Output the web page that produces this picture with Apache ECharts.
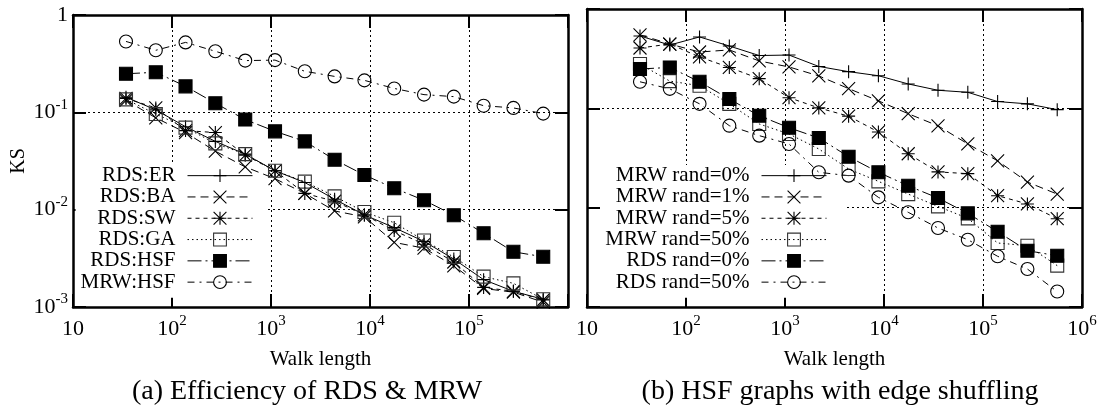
<!DOCTYPE html>
<html>
<head>
<meta charset="utf-8">
<script src="https://cdn.jsdelivr.net/npm/echarts@6/dist/echarts.min.js"></script>
<style>
  html, body { margin: 0; padding: 0; background: #fff; }
  #chart { width: 1102px; height: 414px; }
</style>
</head>
<body>
<div id="chart"></div>
<script>
// Walk lengths (doubling steps) shared by every curve
const walkLengths = [34.3, 68.6, 137, 274, 549, 1098, 2195, 4390, 8780, 17560, 35120, 70240, 140480, 280960, 561920];

// (a) RDS on different graph models, plus MRW on HSF
const rdsER  = [0.143, 0.106, 0.0712, 0.0503, 0.0372, 0.0251, 0.0190, 0.0128, 0.00883, 0.00654, 0.00472, 0.00311, 0.00191, 0.00145, 0.00120];
const rdsBA  = [0.133, 0.0877, 0.0620, 0.0399, 0.0275, 0.0208, 0.0147, 0.0097, 0.00843, 0.00461, 0.00402, 0.00265, 0.00155, 0.00142, 0.00112];
const rdsSW  = [0.139, 0.111, 0.0649, 0.0620, 0.0363, 0.0251, 0.0147, 0.0122, 0.00883, 0.0061, 0.00441, 0.0029, 0.00159, 0.00145, 0.00118];
const rdsGA  = [0.136, 0.0962, 0.0696, 0.048, 0.0372, 0.0251, 0.0194, 0.0137, 0.00947, 0.00734, 0.00483, 0.00326, 0.00205, 0.00175, 0.0012];
const rdsHSF = [0.249, 0.258, 0.185, 0.124, 0.0843, 0.0638, 0.0503, 0.0326, 0.0227, 0.0166, 0.0125, 0.00877, 0.00573, 0.00369, 0.00328];
const mrwHSF = [0.535, 0.434, 0.523, 0.424, 0.340, 0.344, 0.264, 0.234, 0.213, 0.176, 0.152, 0.145, 0.117, 0.111, 0.097];

// (b) HSF graphs with a share of edges shuffled (0% is the plain HSF graph)
const mrwRand1  = [0.55, 0.444, 0.369, 0.387, 0.300, 0.261, 0.212, 0.158, 0.119, 0.0883, 0.0667, 0.0438, 0.0296, 0.0181, 0.0137];
const mrwRand5  = [0.405, 0.444, 0.329, 0.258, 0.199, 0.128, 0.101, 0.0834, 0.0578, 0.0349, 0.0229, 0.0220, 0.0132, 0.0109, 0.00774];
const mrwRand50 = [0.279, 0.188, 0.169, 0.111, 0.0696, 0.0552, 0.039, 0.0245, 0.0184, 0.0137, 0.0103, 0.00781, 0.00441, 0.00414, 0.00261];
const rdsRand50 = [0.185, 0.157, 0.111, 0.0669, 0.0531, 0.0438, 0.0227, 0.0210, 0.0127, 0.00898, 0.00624, 0.00476, 0.00324, 0.00241, 0.00143];

// Axis texts
const xAxisTitle = 'Walk length';
const yAxisTitle = 'KS';
const captions = ['(a) Efficiency of RDS & MRW', '(b) HSF graphs with edge shuffling'];
const xRange = [10, 1e6];
const yRange = [1e-3, 1];

const FONT = 'Liberation Serif';

// Point markers drawn as stroked paths
const SYM = {
  plus:  'path://M0,5L10,5M5,0L5,10',
  cross: 'path://M0,0L10,10M10,0L0,10',
  star:  'path://M0,0L10,10M10,0L0,10M0,5L10,5M5,0L5,10',
  rect: 'rect',
  circle: 'circle'
};

// Dash patterns
const DASH = {
  solid: 'solid',
  longDash: [8, 5],
  shortDash: [4, 4],
  dotted: [1.5, 3],
  dashDot: [14, 4, 2, 4],
  shortDashDot: [7, 5, 2, 5]
};

function powLabel(v) {
  const e = Math.round(Math.log10(v));
  if (e === 0) return '1';
  if (e === 1) return '10';
  return '10{sup|' + (e < 0 ? '-' + (-e) : e) + '}';
}

const labelBase = {
  color: '#000', fontFamily: FONT, fontSize: 22, lineHeight: 30,
  rich: { sup: { color: '#000', fontFamily: FONT, fontSize: 15, lineHeight: 12, verticalAlign: 'top' } }
};

const tickStyle = { show: true, inside: true, length: 13, lineStyle: { color: '#000', width: 2 } };
const frameStyle = { show: true, onZero: false, lineStyle: { color: '#000', width: 2.5 } };
const gridLine = { show: true, showMinLine: false, showMaxLine: false, lineStyle: { color: '#000', width: 1, type: [2, 3] } };

function xMain(gi, showLastLabel) {
  return {
    type: 'log', logBase: 10, gridIndex: gi, position: 'bottom', min: xRange[0], max: xRange[1],
    axisLine: frameStyle, axisTick: tickStyle, minorTick: { show: false }, splitLine: gridLine,
    axisLabel: Object.assign({}, labelBase, {
      margin: 7,
      formatter: v => (!showLastLabel && v > xRange[1] * 0.999) ? '' : powLabel(v)
    }),
    name: xAxisTitle, nameLocation: 'middle', nameGap: 38,
    nameTextStyle: { fontFamily: FONT, fontSize: 21, color: '#000' }
  };
}
function xMirror(gi) {
  return {
    type: 'log', logBase: 10, gridIndex: gi, position: 'top', min: xRange[0], max: xRange[1],
    axisLine: frameStyle, axisTick: tickStyle, minorTick: { show: false },
    splitLine: { show: false }, axisLabel: { show: false }
  };
}
function yMain(gi, showLabels) {
  const ax = {
    type: 'log', logBase: 10, gridIndex: gi, position: 'left', min: yRange[0], max: yRange[1],
    axisLine: frameStyle, axisTick: tickStyle, minorTick: { show: false }, splitLine: gridLine,
    axisLabel: Object.assign({}, labelBase, { show: showLabels, margin: 5, formatter: powLabel })
  };
  if (showLabels) {
    ax.name = yAxisTitle;
    ax.nameLocation = 'middle';
    ax.nameRotate = 90;
    ax.nameGap = 44;
    ax.nameTextStyle = { fontFamily: FONT, fontSize: 20, color: '#000' };
  }
  return ax;
}
function yMirror(gi) {
  return {
    type: 'log', logBase: 10, gridIndex: gi, position: 'right', min: yRange[0], max: yRange[1],
    axisLine: frameStyle, axisTick: tickStyle, minorTick: { show: false },
    splitLine: { show: false }, axisLabel: { show: false }
  };
}

function line(name, values, gi, symbol, dash, fill, stroke) {
  return {
    name, type: 'line', xAxisIndex: gi * 2, yAxisIndex: gi * 2,
    data: walkLengths.map((x, i) => [x, values[i]]),
    symbol: SYM[symbol], symbolSize: 13, showSymbol: true, showAllSymbol: true,
    lineStyle: { color: '#000', width: 1, type: dash },
    itemStyle: { color: fill, borderColor: stroke || '#000', borderWidth: 1.1 },
    emphasis: { disabled: true },
    animation: false, z: 2
  };
}

const leftSeries = [
  line('RDS:ER',  rdsER,  0, 'plus',   DASH.solid,     '#000'),
  line('RDS:BA',  rdsBA,  0, 'cross',  DASH.longDash,  '#000'),
  line('RDS:SW',  rdsSW,  0, 'star',   DASH.shortDash, '#000'),
  line('RDS:GA',  rdsGA,  0, 'rect',   DASH.dotted,    'rgba(0,0,0,0)', '#333'),
  line('RDS:HSF', rdsHSF, 0, 'rect',   DASH.dashDot,   '#000'),
  line('MRW:HSF', mrwHSF, 0, 'circle', DASH.shortDashDot, 'rgba(0,0,0,0)')
];
const rightSeries = [
  line('MRW rand=0%',  mrwHSF,    1, 'plus',   DASH.solid,     '#000'),
  line('MRW rand=1%',  mrwRand1,  1, 'cross',  DASH.longDash,  '#000'),
  line('MRW rand=5%',  mrwRand5,  1, 'star',   DASH.shortDash, '#000'),
  line('MRW rand=50%', mrwRand50, 1, 'rect',   DASH.dotted,    'rgba(0,0,0,0)', '#333'),
  line('RDS rand=0%',  rdsHSF,    1, 'rect',   DASH.dashDot,   '#000'),
  line('RDS rand=50%', rdsRand50, 1, 'circle', DASH.shortDashDot, 'rgba(0,0,0,0)')
];

function legendBox(names, rightEdge, padRight) {
  return {
    data: names, orient: 'vertical', align: 'right', selectedMode: false,
    right: 1102 - rightEdge, top: 165,
    itemWidth: 65, itemHeight: 16, itemGap: 0,
    backgroundColor: '#fff', padding: [0, padRight, 5, 5], z: 1,
    itemStyle: { borderWidth: 1.1 },
    lineStyle: { width: 1 },
    textStyle: { fontFamily: FONT, fontSize: 21, color: '#000', lineHeight: 21.3, padding: [0, 7, 0, 0] }
  };
}

const chart = echarts.init(document.getElementById('chart'), null, { renderer: 'canvas' });
chart.setOption({
  backgroundColor: '#fff',
  animation: false,
  textStyle: { fontFamily: FONT },
  grid: [
    { left: 73, top: 9, width: 495, height: 298 },
    { left: 587, top: 9, width: 495, height: 298 }
  ],
  xAxis: [xMain(0, false), xMirror(0), xMain(1, true), xMirror(1)],
  yAxis: [yMain(0, true), yMirror(0), yMain(1, false), yMirror(1)],
  legend: [
    legendBox(leftSeries.map(s => s.name), 265, 12),
    legendBox(rightSeries.map(s => s.name), 845, 18)
  ],
  series: leftSeries.concat(rightSeries),
  graphic: [
    { type: 'text', x: 307, y: 392, style: { text: captions[0], font: '28px "Liberation Serif"', fill: '#000', align: 'center', verticalAlign: 'middle' } },
    { type: 'text', x: 840, y: 392, style: { text: captions[1], font: '28px "Liberation Serif"', fill: '#000', align: 'center', verticalAlign: 'middle' } }
  ]
});
</script>
</body>
</html>
